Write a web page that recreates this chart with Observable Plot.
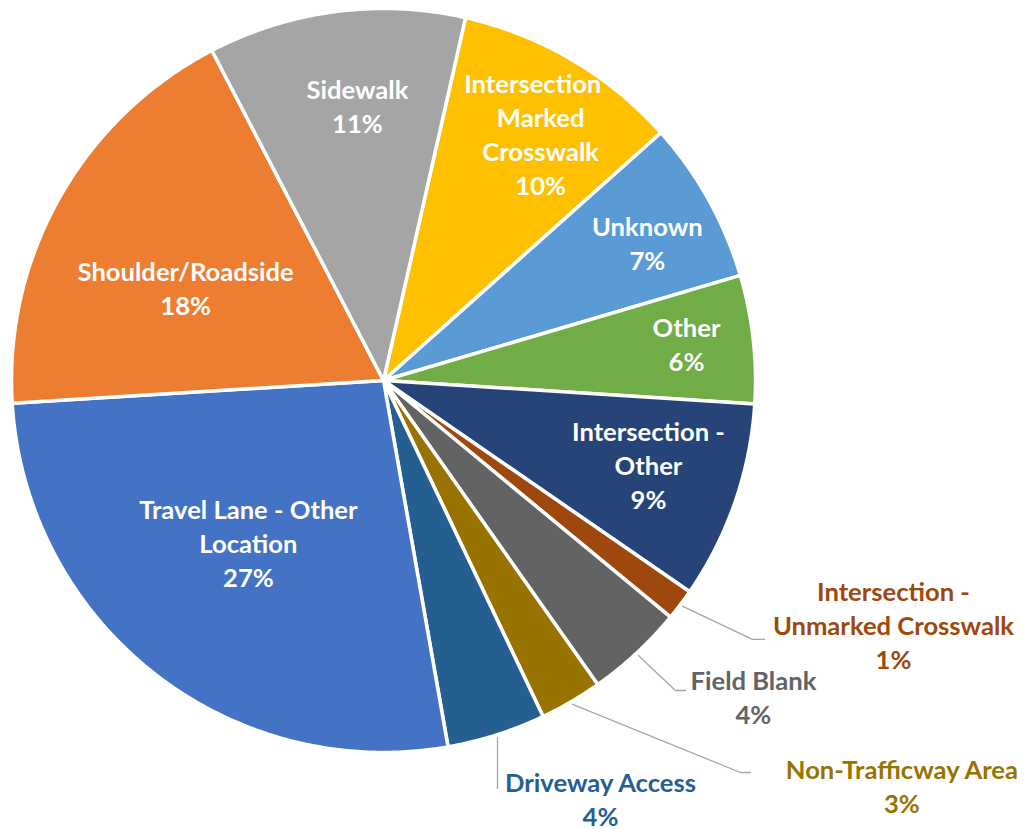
<!DOCTYPE html>
<html><head><meta charset="utf-8">
<script src="https://cdn.jsdelivr.net/npm/d3@7"></script>
<script src="https://cdn.jsdelivr.net/npm/@observablehq/plot@0.6"></script>
<style>body{margin:0;background:#fff}</style>
</head><body><div id="chart"></div>
<script>
// ---- data ----
const categories = ["Intersection - Marked Crosswalk","Unknown","Other","Intersection - Other","Intersection - Unmarked Crosswalk","Field Blank","Non-Trafficway Area","Driveway Access","Travel Lane - Other Location","Shoulder/Roadside","Sidewalk"];
const shares = [9.86, 7.04, 5.56, 8.61, 1.36, 4.26, 2.71, 4.28, 26.80, 18.34, 11.17];
const labelNames = ["Intersection -\nMarked\nCrosswalk","Unknown","Other","Intersection -\nOther","Intersection -\nUnmarked Crosswalk","Field Blank","Non-Trafficway Area","Driveway Access","Travel Lane - Other\nLocation","Shoulder/Roadside","Sidewalk"];
const colors = ["#FFC000","#5B9BD5","#70AD47","#264478","#9E480E","#636363","#997300","#255E91","#4472C4","#ED7D31","#A5A5A5"];

// ---- layout ----
const W = 1025, H = 829, CX = 383, CY = 380, R = 372;
const startAngle = 12.74; // degrees clockwise from 12 o'clock
const insideLayout = {
  "Intersection - Marked Crosswalk": {r: 0.782, da: 2.2},
  "Unknown": {r: 0.798, da: 1.8},
  "Other": {r: 0.82, da: -0.2},
  "Intersection - Other": {r: 0.749, da: -1.1},
  "Travel Lane - Other Location": {r: 0.571, da: 1.25},
  "Shoulder/Roadside": {r: 0.585, da: -4.9},
  "Sidewalk": {r: 0.736, da: 1.9}
};
// outside labels: elbow offset (px) from edge anchor, horizontal tail (px), text offset (px) from anchor
const outsideLayout = {
  "Intersection - Unmarked Crosswalk": {elbow: [69.7, 33], tail: 12, text: [210.7, 20.5]},
  "Field Blank": {elbow: [37, 35], tail: 10, text: [115, 43.5]},
  "Non-Trafficway Area": {elbow: [167.8, 68.2], tail: 10, text: [329.3, 83.2]},
  "Driveway Access": {elbow: [0, 50.7], tail: 0, text: [103, 63.2]}
};
const font = {fontSize: 25.6, fontWeight: "bold", fontFamily: "Lato", lineHeight: 1.33, textAnchor: "middle", dy: -2.5};

const rad = d => d * Math.PI / 180;
const pol = (a, r) => ({x: r * Math.sin(rad(a)), y: r * Math.cos(rad(a))});

// slices
const total = d3.sum(shares);
let cum = 0;
const slices = categories.map((name, i) => {
  const a0 = startAngle + cum / total * 360;
  cum += shares[i];
  const a1 = startAngle + cum / total * 360;
  return {name, i, a0, a1, mid: (a0 + a1) / 2, pct: Math.round(shares[i] / total * 100) + "%"};
});

const slicePts = [];
for (const s of slices) {
  const n = Math.max(2, Math.ceil((s.a1 - s.a0) / 0.5));
  slicePts.push({name: s.name, x: 0, y: 0});
  for (let k = 0; k <= n; k++) {
    const p = pol(s.a0 + (s.a1 - s.a0) * k / n, 1);
    slicePts.push({name: s.name, ...p});
  }
  slicePts.push({name: s.name, x: 0, y: 0});
}

const insideLabels = slices.filter(s => insideLayout[s.name]).map(s => {
  const L = insideLayout[s.name];
  const p = pol(s.mid + L.da, L.r);
  return {name: s.name, x: p.x, y: p.y, text: labelNames[s.i] + "\n" + s.pct};
});

const leaderPts = [];
const outsideLabels = [];
for (const s of slices) {
  const L = outsideLayout[s.name];
  if (!L) continue;
  const a = pol(s.mid, 1.008);
  const e = {x: a.x + L.elbow[0] / R, y: a.y - L.elbow[1] / R};
  leaderPts.push({name: s.name, x: a.x, y: a.y});
  leaderPts.push({name: s.name, x: e.x, y: e.y});
  if (L.tail) leaderPts.push({name: s.name, x: e.x + L.tail / R, y: e.y});
  outsideLabels.push({name: s.name, x: a.x + L.text[0] / R, y: a.y - L.text[1] / R, text: labelNames[s.i] + "\n" + s.pct});
}

const chart = Plot.plot({
  width: W, height: H, margin: 0,
  x: {domain: [-CX / R, (W - CX) / R], axis: null},
  y: {domain: [-(H - CY) / R, CY / R], axis: null},
  color: {domain: categories, range: colors},
  style: {background: "white"},
  marks: [
    Plot.line(slicePts, {x: "x", y: "y", z: "name", fill: "name", stroke: "white", strokeWidth: 3.5, strokeLinejoin: "round"}),
    Plot.line(leaderPts, {x: "x", y: "y", z: "name", stroke: "#A6A6A6", strokeWidth: 1.3}),
    Plot.text(insideLabels, {x: "x", y: "y", text: "text", fill: "white", ...font}),
    Plot.text(outsideLabels, {x: "x", y: "y", text: "text", fill: "name", ...font})
  ]
});
document.getElementById("chart").appendChild(chart);
</script>
</body></html>
